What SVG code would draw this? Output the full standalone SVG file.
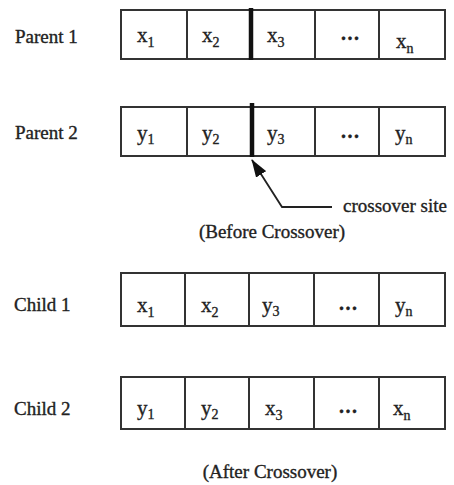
<svg xmlns="http://www.w3.org/2000/svg" width="454" height="485" viewBox="0 0 454 485">
<style>
text{font-family:"Liberation Serif","Times New Roman",serif;fill:#222;stroke:#222;stroke-width:0.35;}
.lbl{font-size:19px;}
.cap{font-size:19px;}
.cell{font-size:21px;}
.sub{font-size:14px;}
.dots{font-size:20px;font-weight:bold;letter-spacing:1.5px;}
.box{fill:#fff;stroke:#333;stroke-width:2;}
.div{stroke:#333;stroke-width:2;}
.cut{stroke:#111;stroke-width:4.5;}
</style>
<defs>
<marker id="ah" viewBox="0 0 18 12" refX="17" refY="6" markerWidth="18" markerHeight="12" markerUnits="userSpaceOnUse" orient="auto">
<path d="M0,0 L18,6 L0,12 z" fill="#111"/>
</marker>
</defs>
<rect width="454" height="485" fill="#fff"/>

<g id="parent1">
<text class="lbl" x="15" y="43">Parent 1</text>
<rect class="box" x="121" y="10" width="324" height="49"/>
<line class="div" x1="187" y1="10" x2="187" y2="59"/>
<line class="div" x1="315" y1="10" x2="315" y2="59"/>
<line class="div" x1="379" y1="10" x2="379" y2="59"/>
<line class="cut" x1="251" y1="8" x2="251" y2="60"/>
<text class="cell" x="137" y="42">x<tspan class="sub" dy="5">1</tspan></text>
<text class="cell" x="202" y="42">x<tspan class="sub" dy="5">2</tspan></text>
<text class="cell" x="267" y="42">x<tspan class="sub" dy="5">3</tspan></text>
<text class="dots" x="341" y="40">...</text>
<text class="cell" x="396" y="48">x<tspan class="sub" dy="5">n</tspan></text>
</g>

<g id="parent2">
<text class="lbl" x="15" y="139">Parent 2</text>
<rect class="box" x="121" y="107" width="324" height="49"/>
<line class="div" x1="187" y1="107" x2="187" y2="156"/>
<line class="div" x1="315" y1="107" x2="315" y2="156"/>
<line class="div" x1="379" y1="107" x2="379" y2="156"/>
<line class="cut" x1="252" y1="103" x2="252" y2="157"/>
<text class="cell" x="137" y="140">y<tspan class="sub" dy="4">1</tspan></text>
<text class="cell" x="202" y="140">y<tspan class="sub" dy="4">2</tspan></text>
<text class="cell" x="267" y="140">y<tspan class="sub" dy="4">3</tspan></text>
<text class="dots" x="341" y="138">...</text>
<text class="cell" x="395" y="140">y<tspan class="sub" dy="4">n</tspan></text>
</g>

<g id="connectors">
<polyline points="332,207 282,207 252,160" fill="none" stroke="#222" stroke-width="1.8" marker-end="url(#ah)"/>
</g>
<g id="crossover-label">
<text class="cap" x="343" y="212">crossover site</text>
</g>
<g id="before-caption">
<text class="cap" x="272" y="238" text-anchor="middle">(Before Crossover)</text>
</g>

<g id="child1">
<text class="lbl" x="14" y="311">Child 1</text>
<rect class="box" x="121" y="273" width="324" height="53"/>
<line class="div" x1="185" y1="273" x2="185" y2="326"/>
<line class="div" x1="249" y1="273" x2="249" y2="326"/>
<line class="div" x1="314" y1="273" x2="314" y2="326"/>
<line class="div" x1="379" y1="273" x2="379" y2="326"/>
<text class="cell" x="137" y="312">x<tspan class="sub" dy="5">1</tspan></text>
<text class="cell" x="201" y="312">x<tspan class="sub" dy="5">2</tspan></text>
<text class="cell" x="262" y="312">y<tspan class="sub" dy="4">3</tspan></text>
<text class="dots" x="339" y="310">...</text>
<text class="cell" x="395" y="312">y<tspan class="sub" dy="4">n</tspan></text>
</g>

<g id="child2">
<text class="lbl" x="14" y="415">Child 2</text>
<rect class="box" x="121" y="377" width="324" height="52"/>
<line class="div" x1="185" y1="377" x2="185" y2="429"/>
<line class="div" x1="249" y1="377" x2="249" y2="429"/>
<line class="div" x1="314" y1="377" x2="314" y2="429"/>
<line class="div" x1="379" y1="377" x2="379" y2="429"/>
<text class="cell" x="137" y="415">y<tspan class="sub" dy="4">1</tspan></text>
<text class="cell" x="201" y="415">y<tspan class="sub" dy="4">2</tspan></text>
<text class="cell" x="265" y="415">x<tspan class="sub" dy="5">3</tspan></text>
<text class="dots" x="339" y="413">...</text>
<text class="cell" x="393" y="415">x<tspan class="sub" dy="5">n</tspan></text>
</g>

<g id="after-caption">
<text class="cap" x="270" y="478" text-anchor="middle">(After Crossover)</text>
</g>
</svg>
